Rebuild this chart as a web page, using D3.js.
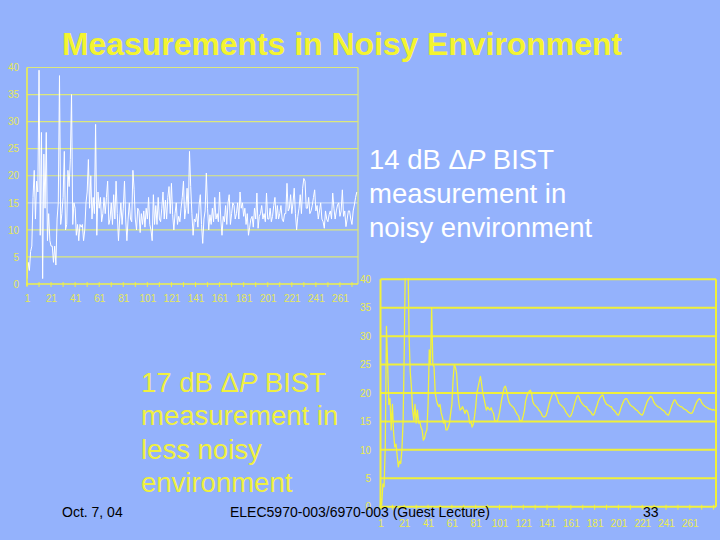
<!DOCTYPE html>
<html><head><meta charset="utf-8">
<script src="https://cdn.jsdelivr.net/npm/d3@7"></script>
<style>html,body{margin:0;padding:0;background:#94b2fc}</style>
</head><body>
<svg id="c" width="720" height="540"></svg>
<script>
// 14 dB ΔP BIST measurement (noisy environment), one value per sample
const noisyValues = [
1,4,2.5,6,7,16,21,12,19,17,39.5,9,28,1,24,14,28,8,13,8,
7,7,4,7,3.5,12,15,38.5,11,13,16,24.5,10,11,21,18,23,35,11,15,
14,9,11,8,11,10.5,11,8,10,15,17,23,14,20,12,16,13,29.5,9,17,
14,16,11.5,13,16,
13,16,19,11,12,15,11,16.5,12,19,
13,8,12,15,11,14,19,12,8,12,
15,12,11.5,21,17.5,12,10,14,13.5,9.5,
13,11,13.5,10.5,14,12,16,11,10,8,
16.5,11,14.5,11,16,12,11.5,14,17,12,
15.5,12,16,18,13,18.6,12.8,10,13,15,
11,12.5,11.5,14,16,19,12,14,17.7,13,
24.5,18,13,9,12,11.5,13,10.5,14.6,16.5,
11,7.5,12,13.5,20.5,14,10,12.8,11,14,
11.5,16,12,13,11.5,17,12,9,12.5,11.5,
14.5,11,15,16.5,11,13,15,14.5,12,13,
15,12,17,14,15,12.5,14,11,13,9,
10.5,12,12.5,10.5,14,12,16.8,10.3,12.5,13,
14.5,12,13,11.5,16.8,12,12,14,11.5,12.5,
14.5,16,12,14.5,12,13,14.5,12,11.5,13,
13,18.6,13.5,14,16.5,13,15,17.7,13,10,
12.5,14,16.5,13,17.7,19.5,19,14,14,16,
13,13.5,14.5,16,17.4,13.5,14.5,12,13.5,15,
12,11.5,10.3,13.5,12,11.5,12.8,13.5,12,16.8,
14,12,13.5,14.6,15,12.5,13.5,17.4,12.5,13.5,
10.6,12,13.5,13.5,12,11,13.5,14.6,16,17
];
// 17 dB ΔP BIST measurement (less noisy environment)
const quietValues = [
1.5,0.3,4,3.5,10.5,31.7,25,18,19,13.5,18,13,10.5,11,9,7,8,7.6,10,15,
28,45,42,45,30,23.7,21,17,15.2,18,14.7,17,14.7,15,14,13.5,11.7,12,13,13.5,
18,27.6,25,35,25,24.6,20,18.8,18,17.6,18,16.5,15.8,14.7,15.2,13.5,13.5,14,14.7,16.5,
18,22.3,25,24.5,23.5,20,18,17,17.2,17.6,17,16.4,17,16.8,16,14.7,15,14,14.5,15.8,
17.5,20,21,22,22.9,21.5,20,19,18,17,17.5,17.2,17,17.4,16.8,16.4,15.2,15,15,15.6,
16.5,17.8,19,20,21,21.2,20.4,19.2,18.4,18,17.8,17.6,17.4,17,16.6,16.2,16,15.2,15,15.2,
16,17,18.6,19.4,20,20.3,20.5,20,18.5,18,17.8,17.6,17.4,17,16.8,16.5,16,15.8,15.8,16,
16.6,17.5,18.3,19,19.6,20,20.2,19.8,19.4,18.8,18.2,18,17.8,17.6,17.4,17,16.6,16.3,16,15.8,
16,16.5,17.2,18,18.7,19.3,19.6,19.2,18.6,18.3,18,17.8,17.6,17.6,17.2,17,16.8,16.6,16.2,16.1,
16.5,17.2,17.8,18.5,19,19.3,19.6,19.6,18.8,18.4,18,17.9,17.8,17.6,17.6,17.2,17,16.8,16.5,16.2,
16.1,16.6,17.3,17.9,18.4,18.8,19,19,18.6,18.2,17.9,17.7,17.6,17.4,17.2,17,16.9,16.6,16.4,16.2,
16.1,16.5,17.2,17.8,18.4,18.8,19.1,19.4,19.3,18.8,18.3,18,17.8,17.6,17.5,17.4,17.2,17,16.9,16.7,
16.4,16.2,16.1,16.6,17.3,17.9,18.4,18.8,18.7,18.2,17.9,17.8,17.6,17.6,17.4,17.2,17.1,17,16.8,16.6,
16.5,16.4,16.5,16.9,17.5,18,18.5,18.8,19,18.8,18.3,18,17.8,17.6,17.5,17.4,17.2,17.2,17.1,17,
17.1,16.9
];
const yTickValues = [0, 5, 10, 15, 20, 25, 30, 35, 40];
const xTickLabels = [1, 21, 41, 61, 81, 101, 121, 141, 161, 181, 201, 221, 241, 261];
const minorTickValues = [1, 11, 21, 31, 41, 51, 61, 71, 81, 91, 101, 111, 121, 131, 141, 151, 161, 171, 181, 191, 201, 211, 221, 231, 241, 251, 261, 271, 281];

const svg = d3.select('#c');
svg.append('rect').attr('width', 720).attr('height', 540).attr('fill', '#94b2fc');

function drawChart(cfg) {
  const x = d3.scaleLinear().domain([1, cfg.xMax]).range([cfg.x0, cfg.x1]);
  const y = d3.scaleLinear().domain([0, 40]).range([cfg.yBot, cfg.yTop]);
  const g = svg.append('g');

  g.selectAll('line.grid').data(yTickValues.filter(v => v > 0)).join('line')
    .attr('x1', cfg.x0).attr('x2', cfg.x1)
    .attr('y1', d => y(d)).attr('y2', d => y(d))
    .attr('stroke', d => (cfg.faint15 && d === 15) ? '#c8d8f8' : cfg.gridColor)
    .attr('stroke-width', cfg.gridWidth);
  g.append('line').attr('x1', cfg.x1).attr('x2', cfg.x1).attr('y1', y(40)).attr('y2', y(0))
    .attr('stroke', cfg.gridColor).attr('stroke-width', cfg.gridWidth);

  const cid = 'clip' + cfg.id;
  svg.append('clipPath').attr('id', cid).append('rect')
    .attr('x', cfg.x0).attr('y', y(40) - 1).attr('width', cfg.x1 - cfg.x0).attr('height', y(0) - y(40) + 2);

  const line = d3.line().x((d, i) => x(i + 1)).y(d => y(d));
  g.append('path').datum(cfg.values).attr('d', line)
    .attr('clip-path', `url(#${cid})`)
    .attr('fill', 'none').attr('stroke', cfg.lineColor)
    .attr('stroke-width', cfg.lineWidth).attr('stroke-linejoin', 'round');

  g.append('line').attr('x1', cfg.x0).attr('x2', cfg.x0).attr('y1', y(40)).attr('y2', y(0) + 2)
    .attr('stroke', cfg.axisColor).attr('stroke-width', cfg.axisWidth);
  g.append('line').attr('x1', cfg.x0 - 1).attr('x2', cfg.x1).attr('y1', y(0)).attr('y2', y(0))
    .attr('stroke', cfg.axisColor).attr('stroke-width', cfg.axisWidth);
  g.selectAll('line.tk').data(minorTickValues.filter(v => v <= cfg.xMax)).join('line')
    .attr('x1', d => x(d)).attr('x2', d => x(d))
    .attr('y1', y(0) - 2).attr('y2', y(0) + 3)
    .attr('stroke', cfg.axisColor).attr('stroke-width', 1);

  const ya = g.append('g').attr('transform', `translate(${cfg.yLabelX},0)`)
    .call(d3.axisLeft(y).tickValues(yTickValues).tickSize(0).tickPadding(0));
  ya.select('.domain').remove();
  ya.selectAll('text').attr('fill', cfg.labelColor)
    .style('font-family', 'Liberation Sans, Arial, sans-serif').style('font-size', '10px');

  const xa = g.append('g').attr('transform', `translate(0,${cfg.xLabelY})`)
    .call(d3.axisBottom(x).tickValues(xTickLabels).tickSize(0).tickPadding(0));
  xa.select('.domain').remove();
  xa.selectAll('text').attr('fill', cfg.labelColor)
    .style('font-family', 'Liberation Sans, Arial, sans-serif').style('font-size', '10px');
}

drawChart({
  id: 1, values: noisyValues, xMax: 276, x0: 27, x1: 358, yTop: 67.5, yBot: 284,
  lineColor: '#ffffff', lineWidth: 1, gridColor: '#dce87c', gridWidth: 1.2, faint15: true,
  axisColor: '#eef04a', axisWidth: 1.6, labelColor: '#e6e85a', yLabelX: 19, xLabelY: 295
});
drawChart({
  id: 2, values: quietValues, xMax: 283, x0: 380.5, x1: 716, yTop: 279.3, yBot: 506.7,
  lineColor: '#f2f23c', lineWidth: 1.3, gridColor: '#f0f03a', gridWidth: 2, faint15: false,
  axisColor: '#f2f23c', axisWidth: 2, labelColor: '#ecec50', yLabelX: 371, xLabelY: 520
});

svg.append('text').attr('x', 62).attr('y', 55)
  .attr('textLength', 560).attr('lengthAdjust', 'spacingAndGlyphs')
  .style('font-family', 'Liberation Sans, Arial, sans-serif').style('font-weight', 'bold')
  .style('font-size', '31px').attr('fill', '#f4f430')
  .text('Measurements in Noisy Environment');

function block(x, y0, dy, lines, color, delta) {
  const t = svg.append('text').attr('fill', color)
    .style('font-family', 'Liberation Sans, Arial, sans-serif').style('font-size', '27.5px');
  lines.forEach((ln, i) => {
    const ts = t.append('tspan').attr('x', x).attr('y', y0 + i * dy);
    if (i === 0) {
      ts.append('tspan').text(delta + ' dB ');
      ts.append('tspan').text('Δ');
      ts.append('tspan').style('font-style', 'italic').text('P');
      ts.append('tspan').text(' BIST');
    } else ts.text(ln);
  });
}
block(369, 169, 34, ['', 'measurement in', 'noisy environment'], '#ffffff', '14');
block(141, 392, 33.3, ['', 'measurement in', 'less noisy', 'environment'], '#f0f040', '17');

const foot = [
  {x: 62, t: 'Oct. 7, 04'},
  {x: 230, t: 'ELEC5970-003/6970-003 (Guest Lecture)'},
  {x: 643, t: '33'}
];
svg.selectAll('text.foot').data(foot).join('text')
  .attr('x', d => d.x).attr('y', 516.5).attr('fill', '#000')
  .style('font-family', 'Liberation Sans, Arial, sans-serif').style('font-size', '14px')
  .text(d => d.t);
</script>
</body></html>
